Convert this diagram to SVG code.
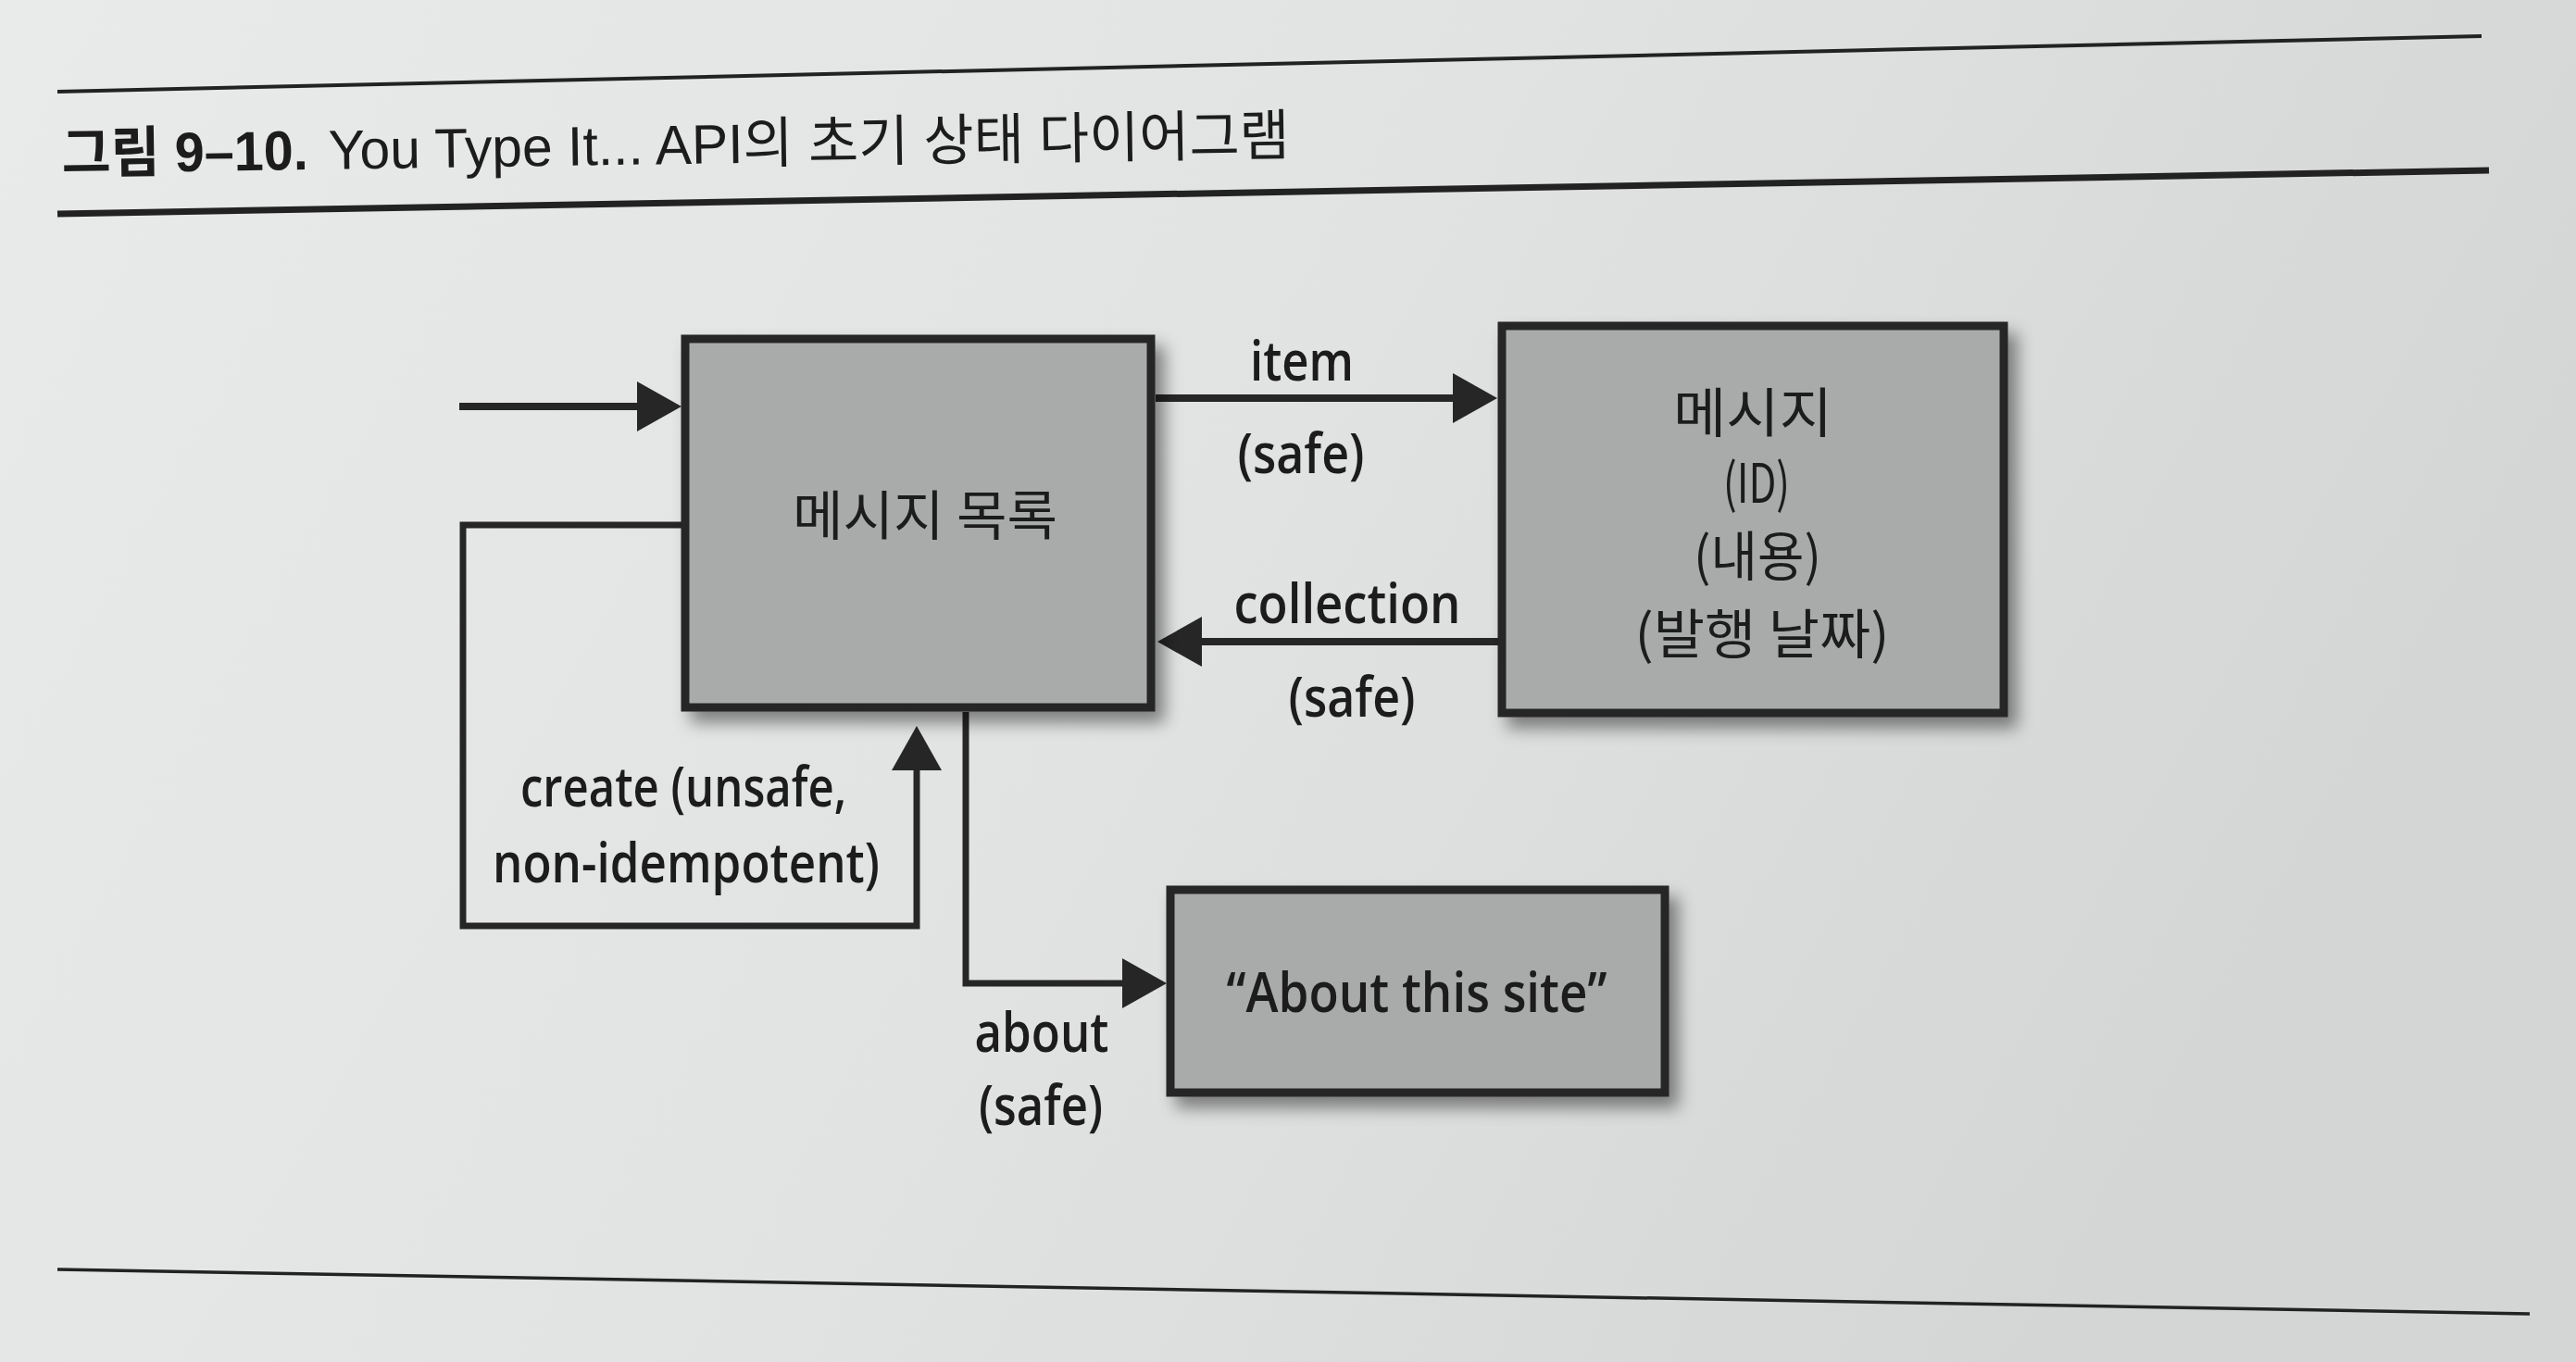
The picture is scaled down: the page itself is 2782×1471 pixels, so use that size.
<svg xmlns="http://www.w3.org/2000/svg" width="2782" height="1471" viewBox="0 0 2782 1471">
  <defs>
    <linearGradient id="bg" x1="0" y1="0" x2="1" y2="0.3">
      <stop offset="0" stop-color="#e9ebea"/>
      <stop offset="0.55" stop-color="#e1e3e2"/>
      <stop offset="1" stop-color="#d4d6d5"/>
    </linearGradient>
    <filter id="shadow" x="-10%" y="-10%" width="130%" height="130%">
      <feDropShadow dx="10" dy="12" stdDeviation="9" flood-color="#000" flood-opacity="0.45"/>
    </filter>
    <marker id="arrow" markerUnits="userSpaceOnUse" markerWidth="50" markerHeight="56" refX="38" refY="27" orient="auto">
      <path d="M0,0 L48,27 L0,54 z" fill="#262626"/>
    </marker>
    <style>
      .box { fill: #a9abab; stroke: #262626; stroke-width: 9; filter: url(#shadow); }
      .conn { fill: none; stroke: #262626; stroke-width: 8; }
      .loop { fill: none; stroke: #262626; stroke-width: 7; }
      .lbl { font-family: "Open Sans", "Liberation Sans", sans-serif; font-size: 60px; font-weight: 600; fill: #1c1c1c; text-anchor: middle; }
      .kr { font-family: "Noto Sans CJK KR", "Noto Sans", sans-serif; font-size: 58px; fill: #1c1c1c; text-anchor: middle; }
      .title { font-family: "Liberation Sans", "Noto Sans CJK KR", sans-serif; font-size: 60px; fill: #1c1c1c; }
      .rule { stroke: #222; fill: none; }
    </style>
  </defs>

  <rect x="0" y="0" width="2782" height="1471" fill="url(#bg)"/>

  <g id="header">
    <line class="rule" x1="62" y1="99" x2="2680" y2="39" stroke-width="4"/>
    <g transform="rotate(-0.86 67 187)">
      <text class="title" x="67" y="187" font-weight="bold" textLength="266" lengthAdjust="spacingAndGlyphs" font-family="Noto Sans CJK KR, Liberation Sans, sans-serif">그림 9–10.</text>
      <text class="title" x="355" y="187" textLength="1038" lengthAdjust="spacingAndGlyphs">You Type It... API의 초기 상태 다이어그램</text>
    </g>
    <line class="rule" x1="62" y1="231" x2="2688" y2="184" stroke-width="7"/>
  </g>

  <g id="footer">
    <line class="rule" x1="62" y1="1371" x2="2732" y2="1419" stroke-width="3.5"/>
  </g>

  <g id="connectors">
    <path id="edge-entry" class="conn" d="M496,439 L726,439" marker-end="url(#arrow)"/>
    <path id="edge-item" class="conn" d="M1248,430 L1607,430" marker-end="url(#arrow)"/>
    <path id="edge-collection" class="conn" d="M1618,693 L1260,693" marker-end="url(#arrow)"/>
    <path id="edge-create" class="loop" d="M736,567 L500,567 L500,1000 L990,1000 L990,794" marker-end="url(#arrow)"/>
    <path id="edge-about" class="loop" d="M1043,769 L1043,1062 L1250,1062" marker-end="url(#arrow)"/>

    <text class="lbl" x="1406" y="411" textLength="112" lengthAdjust="spacingAndGlyphs">item</text>
    <text class="lbl" x="1405" y="511" textLength="137" lengthAdjust="spacingAndGlyphs">(safe)</text>
    <text class="lbl" x="1455" y="673" textLength="245" lengthAdjust="spacingAndGlyphs">collection</text>
    <text class="lbl" x="1460" y="774" textLength="137" lengthAdjust="spacingAndGlyphs">(safe)</text>
    <text class="lbl" x="738" y="871" textLength="352" lengthAdjust="spacingAndGlyphs">create (unsafe,</text>
    <text class="lbl" x="741" y="953" textLength="418" lengthAdjust="spacingAndGlyphs">non-idempotent)</text>
    <text class="lbl" x="1125" y="1136" textLength="145" lengthAdjust="spacingAndGlyphs">about</text>
    <text class="lbl" x="1124" y="1215" textLength="134" lengthAdjust="spacingAndGlyphs">(safe)</text>
  </g>

  <g id="node-message-list">
    <rect class="box" x="740" y="366" width="503" height="398"/>
    <text class="kr" x="999" y="578" font-size="54" textLength="286" lengthAdjust="spacingAndGlyphs">메시지 목록</text>
  </g>

  <g id="node-message">
    <rect class="box" x="1622" y="352" width="542" height="418"/>
    <text class="kr" x="1893" y="467" textLength="172" lengthAdjust="spacingAndGlyphs">메시지</text>
    <text class="kr" x="1897" y="543" textLength="72" lengthAdjust="spacingAndGlyphs">(ID)</text>
    <text class="kr" x="1898" y="622" textLength="138" lengthAdjust="spacingAndGlyphs">(내용)</text>
    <text class="kr" x="1903" y="706" textLength="275" lengthAdjust="spacingAndGlyphs">(발행 날짜)</text>
  </g>

  <g id="node-about">
    <rect class="box" x="1264" y="961" width="534" height="219"/>
    <text class="lbl" x="1530" y="1093" textLength="411" lengthAdjust="spacingAndGlyphs">“About this site”</text>
  </g>
</svg>
